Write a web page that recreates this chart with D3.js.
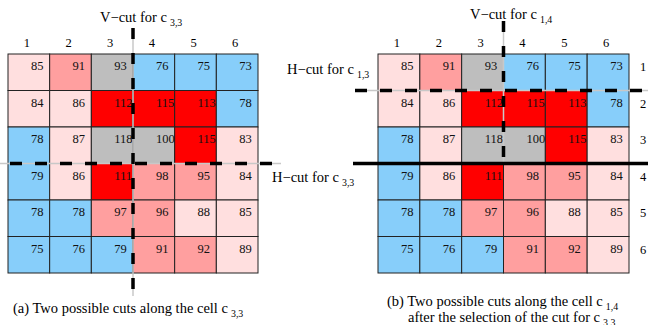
<!DOCTYPE html>
<html>
<head>
<meta charset="utf-8">
<script src="https://d3js.org/d3.v7.min.js"></script>
<style>
  body { margin: 0; background: #fff; }
  text { font-family: "Liberation Serif", "Times New Roman", Times, "DejaVu Serif", serif; }
</style>
</head>
<body>
<svg id="chart" width="648" height="325"></svg>
<script>
// grid data (same matrix in both panels)
const colLabels = ["1", "2", "3", "4", "5", "6"];
const rowLabels = ["1", "2", "3", "4", "5", "6"];
const cellValues = [
  [85, 91, 93, 76, 75, 73],
  [84, 86, 112, 115, 113, 78],
  [78, 87, 118, 100, 115, 83],
  [79, 86, 111, 98, 95, 84],
  [78, 78, 97, 96, 88, 85],
  [75, 76, 79, 91, 92, 89]
];
// cell shade class: lp = light pink, mp = mid pink, gr = grey, bl = blue, rd = red
const cellShades = [
  ["lp", "mp", "gr", "bl", "bl", "bl"],
  ["lp", "lp", "rd", "rd", "rd", "bl"],
  ["bl", "lp", "gr", "gr", "rd", "lp"],
  ["bl", "lp", "rd", "mp", "mp", "lp"],
  ["bl", "bl", "mp", "mp", "lp", "lp"],
  ["bl", "bl", "bl", "mp", "mp", "lp"]
];
const shadeColor = { lp: "#ffdfdf", mp: "#ff9f9f", gr: "#bebebe", bl: "#87cefa", rd: "#ff0000" };
const serif = '"Liberation Serif", "Times New Roman", Times, serif';

const svg = d3.select("#chart").attr("font-family", serif);

// draw one grid panel, returns scales
function drawGrid(x0, x1, y0, y1, showRowLabels) {
  const x = d3.scaleBand().domain(colLabels).range([x0, x1]);
  const y = d3.scaleBand().domain(rowLabels).range([y0, y1]);
  const g = svg.append("g");

  const cells = [];
  cellValues.forEach((row, i) => row.forEach((v, j) => {
    cells.push({ r: rowLabels[i], c: colLabels[j], v: v, s: cellShades[i][j] });
  }));

  g.selectAll("rect.cell")
    .data(cells)
    .enter()
    .append("rect")
    .attr("class", "cell")
    .attr("x", d => x(d.c))
    .attr("y", d => y(d.r))
    .attr("width", x.bandwidth())
    .attr("height", y.bandwidth())
    .attr("fill", d => shadeColor[d.s])
    .attr("stroke", "#222")
    .attr("stroke-width", 1);

  g.selectAll("text.val")
    .data(cells)
    .enter()
    .append("text")
    .attr("class", "val")
    .attr("x", d => x(d.c) + x.bandwidth() * 0.55)
    .attr("y", d => y(d.r) + 16)
    .attr("font-size", 12.5)
    .attr("fill", "#111")
    .text(d => d.v);

  // column numbers on top
  g.selectAll("text.col")
    .data(colLabels)
    .enter()
    .append("text")
    .attr("class", "col")
    .attr("x", d => x(d) + x.bandwidth() / 2 - 2)
    .attr("y", y0 - 7)
    .attr("text-anchor", "middle")
    .attr("font-size", 12.5)
    .text(d => d);

  if (showRowLabels) {
    g.selectAll("text.row")
      .data(rowLabels)
      .enter()
      .append("text")
      .attr("class", "row")
      .attr("x", x1 + 14)
      .attr("y", d => y(d) + 17)
      .attr("text-anchor", "middle")
      .attr("font-size", 12.5)
      .text(d => d);
  }
  return { x, y };
}

// boundary position after n columns/rows
const edge = (scale, n) => scale.range()[0] + n * scale.step();

function vCut(xp, ya, yb, grey) {
  svg.append("line")
    .attr("x1", xp).attr("x2", xp)
    .attr("y1", ya).attr("y2", grey)
    .attr("stroke", "#c8c8c8").attr("stroke-width", 1.5);
  svg.append("line")
    .attr("x1", xp).attr("x2", xp)
    .attr("y1", ya).attr("y2", yb)
    .attr("stroke", "#000").attr("stroke-width", 3.5)
    .attr("stroke-dasharray", "11,14");
}

function hCut(yp, xa, xb, greyA, greyB) {
  svg.append("line")
    .attr("x1", greyA).attr("x2", greyB)
    .attr("y1", yp).attr("y2", yp)
    .attr("stroke", "#c8c8c8").attr("stroke-width", 1.5);
  svg.append("line")
    .attr("x1", xa).attr("x2", xb)
    .attr("y1", yp).attr("y2", yp)
    .attr("stroke", "#000").attr("stroke-width", 3.5)
    .attr("stroke-dasharray", "12,13");
}

function label(xp, yp, main, sub, size) {
  const t = svg.append("text")
    .attr("x", xp).attr("y", yp)
    .attr("font-size", size);
  t.append("tspan").text(main);
  t.append("tspan").attr("dx", 3).attr("dy", 4).attr("font-size", size * 0.68).text(sub);
  return t;
}

// ---- panel (a)
const A = drawGrid(8, 258, 54, 273, false);
const ax = edge(A.x, 3), ay = edge(A.y, 3);
hCut(ay, 10, 272, 0, 281);
vCut(ax, 28, 289, 296);
label(100, 22, "V\u2212cut for c", "3,3", 14.5);
label(272, 182, "H\u2212cut for c", "3,3", 14.5);
label(13, 313, "(a) Two possible cuts along the cell c", "3,3", 14.5);

// ---- panel (b)
const B = drawGrid(378, 629, 54, 273, true);
const bx = edge(B.x, 3), by1 = edge(B.y, 1), by3 = edge(B.y, 3);
hCut(by1, 355, 643, 355, 648);
vCut(bx, 21, 157, 164);
svg.append("line")
  .attr("x1", 353).attr("x2", 648)
  .attr("y1", by3).attr("y2", by3)
  .attr("stroke", "#000").attr("stroke-width", 3.5);
label(470, 19, "V\u2212cut for c", "1,4", 14.5);
label(287, 74, "H\u2212cut for c", "1,3", 14.5);
label(387, 306, "(b) Two possible cuts along the cell c", "1,4", 14.5);
label(408, 322, "after the selection of the cut for c", "3,3", 14.5);
</script>
</body>
</html>
